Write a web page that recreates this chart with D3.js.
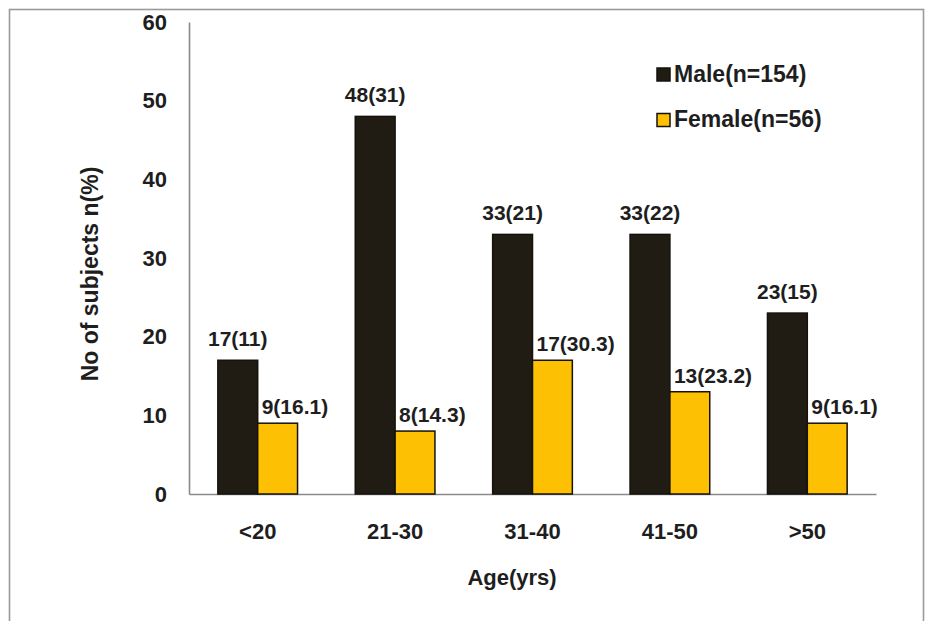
<!DOCTYPE html>
<html><head><meta charset="utf-8">
<script src="https://cdn.jsdelivr.net/npm/d3@7"></script>
<style>body{margin:0;background:#fff}svg{display:block}text{font-family:"Liberation Sans",Arial,sans-serif;font-weight:bold;fill:#1e1e1e}</style>
</head><body><svg id="c" width="925" height="621"></svg>
<script>
const categories = ["<20","21-30","31-40","41-50",">50"];
const seriesNames = ["Male(n=154)","Female(n=56)"];
const maleValues = [17,48,33,33,23];
const femaleValues = [9,8,17,13,9];
const maleLabels = ["17(11)","48(31)","33(21)","33(22)","23(15)"];
const femaleLabels = ["9(16.1)","8(14.3)","17(30.3)","13(23.2)","9(16.1)"];
const yTicks = [0,10,20,30,40,50,60];
const colors = ["#201c14","#fdc002"];

const svg = d3.select("#c");
svg.append("rect").attr("x",9.5).attr("y",9.5).attr("width",914).attr("height",640)
  .attr("fill","none").attr("stroke","#9a9a9a").attr("stroke-width",1.6);

const x = d3.scaleBand().domain(categories).range([189,876]).paddingInner(0.42).paddingOuter(0.21);
const xs = d3.scaleBand().domain([0,1]).range([0,x.bandwidth()]);
const y = d3.scaleLinear().domain([0,60]).range([494,22]);

// y axis
const ya = svg.append("g").attr("transform","translate(189,0)")
  .call(d3.axisLeft(y).tickValues(yTicks).tickSize(0).tickPadding(22));
ya.select(".domain").attr("stroke","#8a8a8a").attr("stroke-width",1.6);
ya.selectAll("text").style("font-size","22px").style("font-family","'Liberation Sans',Arial,sans-serif").style("font-weight","bold").attr("fill","#1e1e1e");

// x axis
const xa = svg.append("g").attr("transform","translate(0,494)")
  .call(d3.axisBottom(x).tickSize(0).tickPadding(29));
xa.select(".domain").attr("stroke","#8a8a8a").attr("stroke-width",1.6);
xa.selectAll("text").style("font-size","22px").style("font-family","'Liberation Sans',Arial,sans-serif").style("font-weight","bold").attr("fill","#1e1e1e");

const series = [maleValues, femaleValues];
series.forEach((vals, si) => {
  svg.append("g").selectAll("rect").data(vals).join("rect")
    .attr("x",(d,i)=>x(categories[i])+xs(si))
    .attr("y",d=>y(d))
    .attr("width",xs.bandwidth())
    .attr("height",d=>y(0)-y(d))
    .attr("fill",colors[si]).attr("stroke","#15120c").attr("stroke-width",1.5);
});
// labels
svg.append("g").selectAll("text").data(maleValues).join("text")
  .attr("x",(d,i)=>x(categories[i])+xs(0)+xs.bandwidth()/2)
  .attr("y",d=>y(d)-14).attr("text-anchor","middle").style("font-size","21px")
  .text((d,i)=>maleLabels[i]);
svg.append("g").selectAll("text").data(femaleValues).join("text")
  .attr("x",(d,i)=>x(categories[i])+xs(1)+4)
  .attr("y",d=>y(d)-9).attr("text-anchor","start").style("font-size","21px")
  .text((d,i)=>femaleLabels[i]);

// legend
const lg = svg.append("g");
seriesNames.forEach((n,i)=>{
  lg.append("rect").attr("x",657).attr("y",68+i*45.5).attr("width",13).attr("height",13)
    .attr("fill",colors[i]).attr("stroke","#15120c").attr("stroke-width",1.5);
  lg.append("text").attr("x",674).attr("y",82+i*45).style("font-size","23px").text(n);
});

// titles
svg.append("text").attr("x",512).attr("y",585).attr("text-anchor","middle").style("font-size","22px").text("Age(yrs)");
svg.append("text").attr("transform","translate(98,274) rotate(-90)").attr("text-anchor","middle").style("font-size","23px").text("No of subjects n(%)");
</script></body></html>
